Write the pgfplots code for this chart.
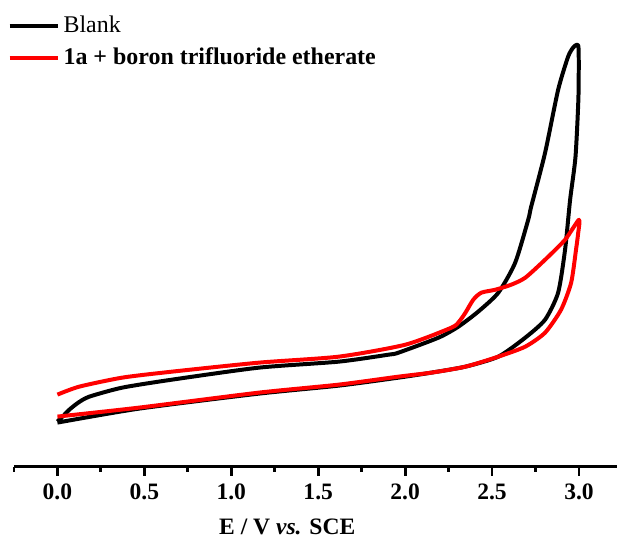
\documentclass[border=0pt]{standalone}
\usepackage{fontspec}
\setmainfont{Liberation Serif}
\usepackage{pgfplots}
\pgfplotsset{compat=1.18}
\begin{document}
\fontsize{12pt}{14pt}\selectfont
\begin{tikzpicture}
\begin{axis}[
  scale only axis,
  width=302.5pt, height=228.5pt,
  xmin=-0.25, xmax=3.22, ymin=0, ymax=457,
  axis x line=bottom, axis y line=none,
  x axis line style={-, line width=1.8pt},
  xtick={0,0.5,...,3.0},
  minor xtick={-0.25,0.25,0.75,1.25,1.75,2.25,2.75},
  xticklabels={0.0,0.5,1.0,1.5,2.0,2.5,3.0},
  tick align=outside,
  major tick length=4.5pt, minor tick length=2.5pt,
  every tick/.style={black, line width=1.4pt},
  tick label style={font=\fontsize{11.8pt}{14pt}\selectfont\bfseries},
  /pgf/number format/assume math mode=true,
  xlabel={\textbf{E / V \textit{vs.} SCE}},
  xlabel style={font=\fontsize{11.8pt}{14pt}\selectfont, at={(rel axis cs:0.453,0)}, anchor=north, yshift=-22pt},
  legend style={at={(rel axis cs:-0.011,0.997)}, anchor=north west, draw=none, fill=none,
    font=\fontsize{12pt}{14pt}\selectfont, inner xsep=0pt, inner ysep=0pt, row sep=2pt,
    /tikz/every even column/.append style={column sep=4pt}},
  legend cell align=left,
  legend image code/.code={\draw[#1] (0pt,0pt) -- (24pt,0pt);},
  clip=false,
]
\addplot[black, line width=2pt, line join=round, smooth, tension=0.4] coordinates {
(0,45) (0.035,51) (0.069,57) (0.12,64) (0.184,70) (0.373,79) (0.660,87) (1.159,99) (1.618,105) (1.905,112) (1.962,114)
(2.192,129) (2.306,140) (2.420,155) (2.536,174) (2.633,204) (2.708,247) (2.725,260) (2.805,314)
(2.880,377) (2.937,410) (2.965,419) (2.985,422) (2.998,418)
(2.997,370) (2.980,310) (2.949,267) (2.920,217) (2.880,174) (2.805,147) (2.691,129)
(2.536,110) (2.347,100) (2.151,94) (1.962,89) (1.618,81) (1.159,73) (0.470,58) (0,44)
};
\addlegendentry{Blank}
\addplot[red, line width=2pt, line join=round, smooth, tension=0.4] coordinates {
(0,72) (0.126,80) (0.373,89) (0.660,95) (1.159,104) (1.618,110) (2.002,122) (2.266,139) (2.31,145)
(2.347,154) (2.392,167) (2.438,174) (2.519,177) (2.610,182) (2.691,189) (2.805,207) (2.920,227) (3.0,247)
(2.995,233) (2.983,217) (2.955,184) (2.897,157) (2.805,134) (2.691,120) (2.536,110) (2.347,100)
(2.151,94) (1.962,90) (1.618,82) (1.159,74) (0.470,59) (0,50)
};
\addlegendentry{\textbf{1a + boron trifluoride etherate}}
\end{axis}
\path (current axis.north west) ++(-7pt,5pt);
\end{tikzpicture}
\end{document}
